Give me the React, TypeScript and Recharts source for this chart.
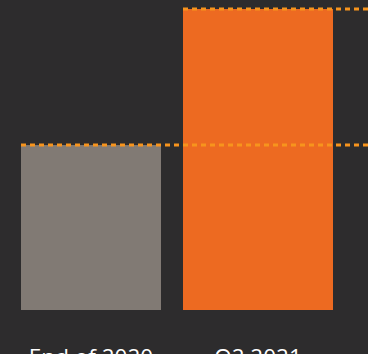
import React from 'react';
import { BarChart, Bar, XAxis, YAxis, LabelList } from 'recharts';

const categories = ['End of 2020', 'Q2 2021'];
const values = [54.8, 100];

const BG = '#2d2c2d';
const BAR_COLORS = ['#817a74', '#ed6a21'];
const BAR_WIDTHS = [140, 150];
const LINE_COLOR = '#f7941d';
const WIDTH = 368;
const HEIGHT = 354;

const data = categories.map((name, i) => ({ name, value: values[i] }));

const BarShape = (props: any) => {
  const { x, y, width, height, index } = props;
  const w = BAR_WIDTHS[index];
  return <rect x={x + width / 2 - w / 2} y={y} width={w} height={height} fill={BAR_COLORS[index]} />;
};

// dashed level line from the bar's left edge to the right border, drawn above all bars
const LevelLine = (props: any) => {
  const { x, y, width, index } = props;
  const left = x + width / 2 - BAR_WIDTHS[index] / 2;
  return (
    <line
      x1={left}
      y1={y}
      x2={WIDTH}
      y2={y}
      stroke={LINE_COLOR}
      strokeWidth={3}
      strokeDasharray="5 4"
    />
  );
};

const Tick = (props: any) => {
  const { x, y, payload } = props;
  return (
    <text
      x={x}
      y={y + 55}
      textAnchor="middle"
      fill="#ffffff"
      fontSize={22.5}
      fontFamily="'Open Sans', sans-serif"
    >
      {payload.value}
    </text>
  );
};

export default function App() {
  return (
    <div style={{ position: 'absolute', left: 0, top: 0, width: WIDTH, height: HEIGHT, background: BG }}>
      <BarChart
        width={WIDTH}
        height={HEIGHT}
        data={data}
        margin={{ top: 9, right: 26.5, left: 7.5, bottom: 0 }}
        barCategoryGap={10}
      >
        <XAxis
          dataKey="name"
          height={44}
          axisLine={false}
          tickLine={false}
          tickSize={0}
          tickMargin={0}
          interval={0}
          tick={<Tick />}
        />
        <YAxis hide domain={[0, 100]} />
        <Bar dataKey="value" shape={<BarShape />} isAnimationActive={false}>
          <LabelList dataKey="value" content={<LevelLine />} />
        </Bar>
      </BarChart>
    </div>
  );
}
